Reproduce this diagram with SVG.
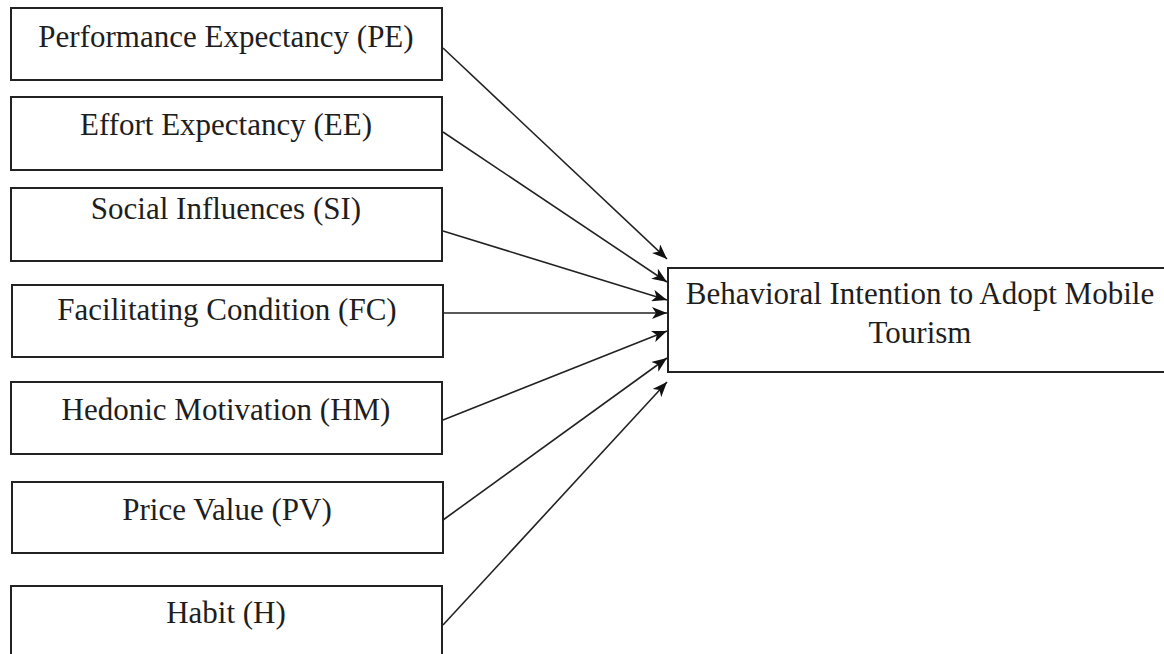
<svg xmlns="http://www.w3.org/2000/svg" width="1164" height="654" viewBox="0 0 1164 654">
<style>
.box{fill:#fff;stroke:#222;stroke-width:2}
.lbl{font-family:"Liberation Serif","Times New Roman",serif;font-size:31px;fill:#1e1e1e;text-anchor:middle}
.con{stroke:#222;stroke-width:1.6;fill:none;marker-end:url(#ah)}
</style>
<defs>
<marker id="ah" markerUnits="userSpaceOnUse" markerWidth="16" markerHeight="12" viewBox="0 0 16 12" refX="15" refY="6" orient="auto">
<path d="M0,0 L15,6 L0,12 L4,6 z" fill="#111"/>
</marker>
</defs>
<rect width="1164" height="654" fill="#fff"/>
<g id="pe"><rect class="box" x="11" y="8" width="431" height="72"/><text class="lbl" x="226" y="47">Performance Expectancy (PE)</text></g>
<g id="ee"><rect class="box" x="11" y="97" width="431" height="73"/><text class="lbl" x="226" y="135">Effort Expectancy (EE)</text></g>
<g id="si"><rect class="box" x="11" y="188" width="431" height="73"/><text class="lbl" x="226" y="219">Social Influences (SI)</text></g>
<g id="fc"><rect class="box" x="12" y="285" width="431" height="72"/><text class="lbl" x="227" y="320">Facilitating Condition (FC)</text></g>
<g id="hm"><rect class="box" x="11" y="382" width="431" height="72"/><text class="lbl" x="226" y="420">Hedonic Motivation (HM)</text></g>
<g id="pv"><rect class="box" x="12" y="482" width="431" height="71"/><text class="lbl" x="227" y="520">Price Value (PV)</text></g>
<g id="h"><rect class="box" x="11" y="586" width="431" height="74"/><text class="lbl" x="226" y="623">Habit (H)</text></g>
<g id="bi"><rect class="box" x="668" y="268" width="504" height="104"/><text class="lbl" x="920" y="304">Behavioral Intention to Adopt Mobile</text><text class="lbl" x="920" y="343">Tourism</text></g>
<g id="connectors">
<line class="con" x1="443" y1="48" x2="667" y2="259"/>
<line class="con" x1="443" y1="132" x2="667" y2="282"/>
<line class="con" x1="443" y1="231" x2="667" y2="300"/>
<line class="con" x1="443" y1="313" x2="667" y2="313"/>
<line class="con" x1="443" y1="420" x2="667" y2="331"/>
<line class="con" x1="443" y1="520" x2="667" y2="358"/>
<line class="con" x1="443" y1="625" x2="667" y2="382"/>
</g>
</svg>
